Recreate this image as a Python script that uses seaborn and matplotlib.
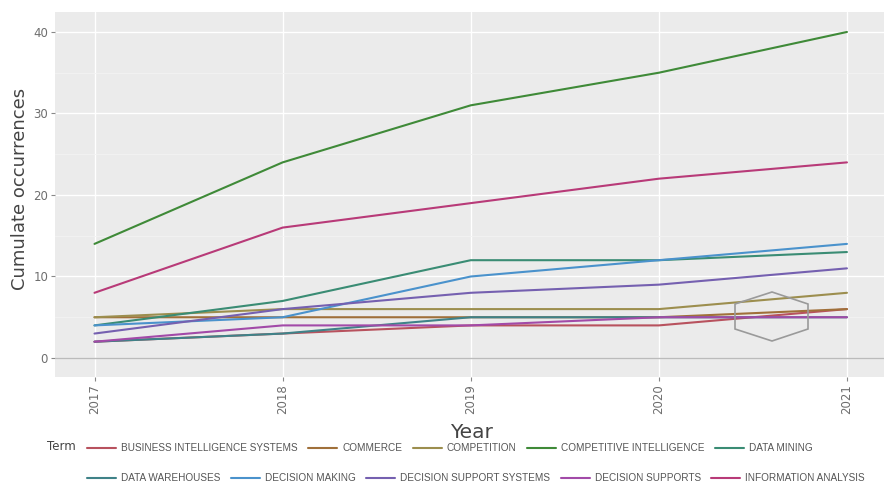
import matplotlib
matplotlib.use("Agg")
import matplotlib.pyplot as plt
import numpy as np
import pandas as pd
import seaborn as sns
from matplotlib.lines import Line2D
from matplotlib.patches import Polygon

# Cumulative keyword occurrences per year
years = [2017, 2018, 2019, 2020, 2021]
terms = [
    "BUSINESS INTELLIGENCE SYSTEMS",
    "COMMERCE",
    "COMPETITION",
    "COMPETITIVE INTELLIGENCE",
    "DATA MINING",
    "DATA WAREHOUSES",
    "DECISION MAKING",
    "DECISION SUPPORT SYSTEMS",
    "DECISION SUPPORTS",
    "INFORMATION ANALYSIS",
]
business_intelligence_systems = [2, 3, 4, 4, 6]
commerce = [5, 5, 5, 5, 6]
competition = [5, 6, 6, 6, 8]
competitive_intelligence = [14, 24, 31, 35, 40]
data_mining = [4, 7, 12, 12, 13]
data_warehouses = [2, 3, 5, 5, 5]
decision_making = [4, 5, 10, 12, 14]
decision_support_systems = [3, 6, 8, 9, 11]
decision_supports = [2, 4, 4, 5, 5]
information_analysis = [8, 16, 19, 22, 24]

series = [
    business_intelligence_systems, commerce, competition,
    competitive_intelligence, data_mining, data_warehouses,
    decision_making, decision_support_systems, decision_supports,
    information_analysis,
]
colors = [
    "#B8525E", "#A0703A", "#9C8E4E", "#3F8A38", "#3A8C74",
    "#3F8288", "#4A92CC", "#7560B0", "#A24AA8", "#B83A78",
]
palette = dict(zip(terms, colors))

df = pd.DataFrame({
    "Year": np.tile(years, len(terms)),
    "Occurrences": np.concatenate(series),
    "Term": np.repeat(terms, len(years)),
})

sns.set_theme(style="darkgrid", rc={
    "axes.facecolor": "#EBEBEB",
    "grid.color": "white",
    "axes.edgecolor": "#EBEBEB",
})
plt.rcParams["font.family"] = ["DejaVu Sans"]

W, H = 884, 484
fig = plt.figure(figsize=(W / 100, H / 100), dpi=100)
fig.patch.set_facecolor("white")
ax = fig.add_axes([55 / W, 1 - 377 / H, 829 / W, 365 / H])

ax.axhline(0, color="#BBBBBB", lw=1.0, zorder=1)
sns.lineplot(data=df, x="Year", y="Occurrences", hue="Term",
             hue_order=terms, palette=palette, linewidth=1.5,
             ax=ax, legend=False, zorder=3)

ax.set_xlim(2016.79, 2021.197)
ax.set_ylim(-2.33, 42.45)
ax.set_xticks(years)
ax.set_xticklabels([str(y) for y in years], rotation=90)
ax.set_yticks([0, 10, 20, 30, 40])
ax.set_yticks([5, 15, 25, 35], minor=True)
ax.grid(True, which="major", color="white", lw=1.0)
ax.grid(True, which="minor", axis="y", color="#F3F3F3", lw=0.6)
for s in ax.spines.values():
    s.set_visible(False)

ax.tick_params(axis="both", which="major", length=3, width=0.8,
               color="#888888", labelcolor="#6E6E6E", labelsize=8.5, pad=2,
               bottom=True, left=True)
ax.tick_params(axis="both", which="minor", length=0)

ax.set_xlabel("Year", fontsize=14.5, color="#444444")
ax.xaxis.set_label_coords((471 - 55) / 829, -(432 - 377) / 365)
ax.xaxis.label.set_va("center")
ax.set_ylabel("Cumulate occurrences", fontsize=13, color="#444444")
ax.yaxis.set_label_coords(-(55 - 20) / 829, (377 - 189) / 365)
ax.yaxis.label.set_va("center")

# Faint hexagonal logo mark
hex_px = [(772, 292), (808, 304), (808, 329), (772, 341), (735, 329), (735, 304)]
fig.patches.append(Polygon([(x / W, 1 - y / H) for x, y in hex_px], closed=True,
                           fill=False, edgecolor="#9A9A9A", lw=1.2,
                           transform=fig.transFigure, zorder=5))

# Legend, two rows
fig.text(47 / W, 1 - 447 / H, "Term", fontsize=8.5, color="#444444",
         va="center", ha="left")
legend_font = {"family": "Liberation Sans", "size": 7.2}
rows = [terms[:5], terms[5:]]
row_y = [1 - 448 / H, 1 - 478 / H]
for names, yy in zip(rows, row_y):
    handles = [Line2D([0], [0], color=palette[n], lw=1.5) for n in names]
    leg = fig.legend(handles, names, loc="center left",
                     bbox_to_anchor=(87 / W, yy), ncol=len(names),
                     frameon=False, prop=legend_font, handlelength=2.9,
                     handletextpad=0.5, columnspacing=1.05, borderpad=0,
                     borderaxespad=0)
    for t in leg.get_texts():
        t.set_color("#555555")

fig.savefig("out.png", dpi=100, facecolor="white")
